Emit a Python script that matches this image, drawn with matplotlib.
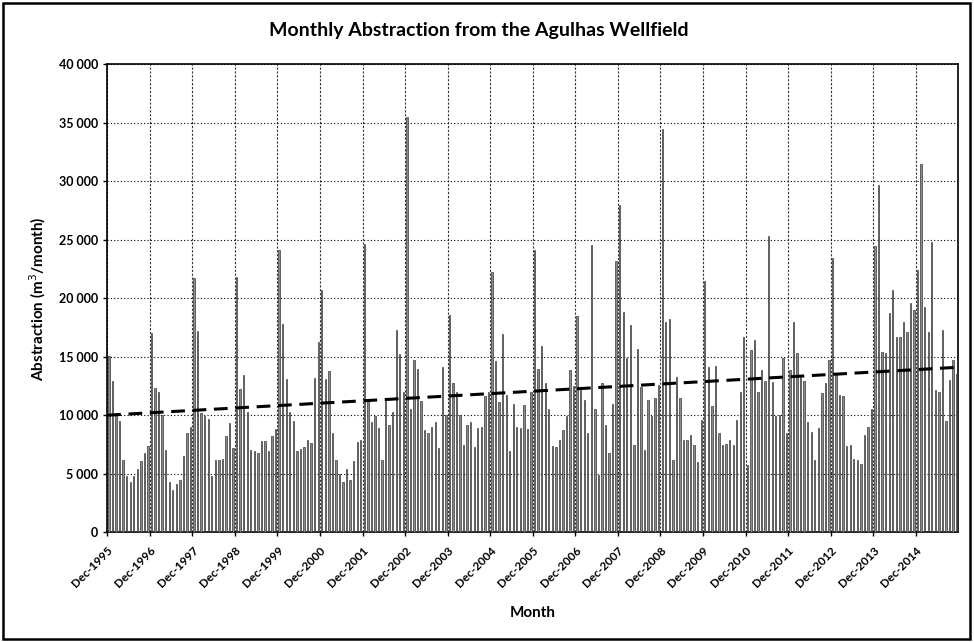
import matplotlib.pyplot as plt
import numpy as np
from matplotlib.patches import Rectangle
from matplotlib.ticker import FuncFormatter

plt.rcParams['font.family'] = ['Lato', 'DejaVu Sans']

# maandelikse onttrekking (m3/maand), een ry per jaar: Dec .. Nov
abstraction = [
    15100, 12900, 10000, 9500, 6200, 4800, 4300, 4800, 5400, 6100, 6800, 7400,      # Dec-1995
    17000, 12300, 12000, 10000, 7000, 4300, 3600, 4100, 4500, 6500, 8500, 9000,      # Dec-1996
    21700, 17200, 10200, 9900, 9700, 4800, 6200, 6200, 6300, 8200, 9300, 7200,       # Dec-1997
    21850, 12200, 13400, 10300, 7000, 6900, 6800, 7800, 7800, 6900, 8200, 8800,      # Dec-1998
    24100, 17800, 13100, 10300, 9500, 6950, 7100, 7300, 7900, 7600, 13200, 16300,    # Dec-1999
    20700, 13100, 13750, 8450, 6200, 5000, 4300, 5400, 4500, 6050, 7750, 7900,       # Dec-2000
    24600, 11200, 9400, 9900, 8900, 6200, 11300, 9200, 10300, 17300, 15200, 12000,   # Dec-2001
    35500, 10500, 14700, 13950, 11200, 8750, 8450, 9000, 9450, 7200, 14100, 10000,   # Dec-2002
    18600, 12750, 12000, 10000, 7450, 9200, 9400, 7300, 8900, 9000, 11600, 12000,    # Dec-2003
    22200, 14650, 11100, 16900, 11750, 6900, 11000, 9000, 8900, 10900, 8800, 12000,  # Dec-2004
    24150, 13950, 15950, 12750, 10500, 7400, 7300, 7850, 8700, 9900, 13900, 12500,   # Dec-2005
    18500, 12150, 11300, 8450, 24550, 10500, 4900, 12750, 9200, 6750, 11000, 23150,  # Dec-2006
    28000, 18800, 14900, 17700, 7450, 15650, 12450, 7000, 11300, 9900, 11450, 12600, # Dec-2007
    34500, 18000, 18200, 6200, 13300, 11450, 7900, 7900, 8300, 7450, 6000, 9600,     # Dec-2008
    21500, 14150, 10750, 14200, 8450, 7450, 7500, 7850, 7450, 9600, 12000, 16700,    # Dec-2009
    5750, 15600, 16400, 11950, 13900, 12900, 25350, 12800, 9900, 10000, 14900, 8500, # Dec-2010
    13900, 18000, 15300, 13250, 12950, 9400, 8600, 6200, 8900, 11900, 12750, 14750,  # Dec-2011
    23400, 13400, 11700, 11650, 7400, 7450, 6300, 6150, 5850, 8300, 9000, 10500,     # Dec-2012
    24500, 29650, 15400, 15300, 18700, 20700, 16700, 16700, 18000, 17100, 19550, 19000, # Dec-2013
    22400, 31500, 19250, 17100, 24800, 12150, 12000, 17250, 9500, 13000, 14700, 13550,  # Dec-2014
]
tick_years = list(range(1995, 2015))
tick_labels = [f"Dec-{y}" for y in tick_years]

# tendenslyn soos op die oorspronklike grafiek (begin- en eindwaarde)
trend_start = 10000
trend_end = 14100

n = len(abstraction)
x = np.arange(n) + 0.5          # kolomme tussen die regmerke
tick_pos = np.arange(len(tick_years)) * 12

fig = plt.figure(figsize=(9.74, 6.42), dpi=100)
ax = fig.add_axes([0.110, 0.171, 0.874, 0.729])

ax.bar(x, abstraction, width=0.38, color='#8a8a8a', edgecolor='#2a2a2a', linewidth=0.45, zorder=3)

ax.plot([0, n], [trend_start, trend_end], color='black', lw=2.2, ls=(0, (4.5, 2.5)), zorder=4)

ax.set_xlim(0, n)
ax.set_ylim(0, 40000)
ax.set_yticks(np.arange(0, 40001, 5000))
ax.yaxis.set_major_formatter(FuncFormatter(lambda v, p: f"{v:,.0f}".replace(",", " ")))
ax.set_xticks(tick_pos)
ax.set_xticklabels(tick_labels, rotation=45, ha='right', rotation_mode='anchor')

ax.grid(axis='y', color='black', ls=(0, (1, 2)), lw=0.8, zorder=0)
ax.grid(axis='x', color='#333333', ls=(0, (2, 1.5)), lw=0.8, zorder=0)

ax.tick_params(axis='both', length=3, direction='out', width=1)
ax.tick_params(axis='y', labelsize=9)
ax.tick_params(axis='x', labelsize=8.5, pad=6)
for lab in ax.get_xticklabels() + ax.get_yticklabels():
    lab.set_fontweight('bold')
for s in ax.spines.values():
    s.set_linewidth(1.2)
    s.set_color('black')

ax.set_xlabel('Month', fontsize=11, fontweight='bold', labelpad=12)
ax.set_ylabel('Abstraction (m$^3$/month)', fontsize=11, fontweight='bold', labelpad=8)
fig.text(0.492, 0.953, 'Monthly Abstraction from the Agulhas Wellfield',
         ha='center', va='center', fontsize=14, fontweight='bold')

fig.patches.append(Rectangle((0.003, 0.004), 0.993, 0.992, transform=fig.transFigure,
                             fill=False, edgecolor='black', lw=1.8))

fig.savefig('out.png', dpi=100)
